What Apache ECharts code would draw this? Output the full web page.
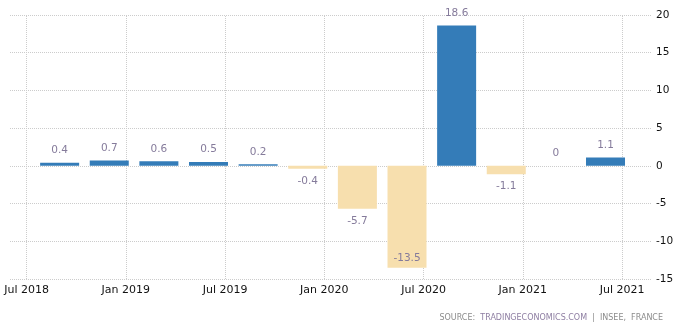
<!DOCTYPE html>
<html>
<head>
<meta charset="utf-8">
<title>France GDP Growth Rate</title>
<script src="https://cdn.jsdelivr.net/npm/echarts@6/dist/echarts.min.js"></script>
<style>
  html, body { margin: 0; padding: 0; background: #fff; }
  #chart { width: 681px; height: 331px; }
</style>
</head>
<body>
<div id="chart"></div>
<script>
// Quarterly GDP growth (QoQ, %), each bar placed at its reporting month
const periods = ['2018-09', '2018-12', '2019-03', '2019-06', '2019-09', '2019-12',
                 '2020-03', '2020-06', '2020-09', '2020-12', '2021-03', '2021-06'];
const growth = [0.4, 0.7, 0.6, 0.5, 0.2, -0.4, -5.7, -13.5, 18.6, -1.1, 0, 1.1];

// Axis tick labels (half-yearly)
const tickLabels = ['Jul 2018', 'Jan 2019', 'Jul 2019', 'Jan 2020', 'Jul 2020', 'Jan 2021', 'Jul 2021'];
const yTicks = [-15, -10, -5, 0, 5, 10, 15, 20];

const monthNames = ['Jan','Feb','Mar','Apr','May','Jun','Jul','Aug','Sep','Oct','Nov','Dec'];
// Months counted from Jul 2018
function monthIndex(year, month) { return (year - 2018) * 12 + (month - 7); }
function periodIndex(p) { const [y, m] = p.split('-').map(Number); return monthIndex(y, m); }
function labelIndex(s) { const [mn, y] = s.split(' '); return monthIndex(+y, monthNames.indexOf(mn) + 1); }

const tickPos = tickLabels.map(labelIndex);
const labelByPos = {};
tickPos.forEach((p, i) => { labelByPos[p] = tickLabels[i]; });

const POS = '#347cb8', NEG = '#f7dfae';
const LABEL = '#857b9b';
const GRID = '#cccccc';
const FONT = 'DejaVu Sans';

const yMin = yTicks[0], yMax = yTicks[yTicks.length - 1];

const barData = periods.map((p, i) => {
  const v = growth[i];
  const roomBelow = v - yMin;
  let position = v < 0 ? 'bottom' : 'top';
  if (v < 0 && roomBelow < 2.5) position = 'insideBottom';
  return {
    value: [periodIndex(p), v],
    itemStyle: { color: v < 0 ? NEG : POS },
    label: { position: position, distance: position === 'insideBottom' ? 4 : 7 }
  };
});

const chart = echarts.init(document.getElementById('chart'), null, { renderer: 'canvas' });
chart.setOption({
  animation: false,
  backgroundColor: '#fff',
  grid: { left: 10, right: 30, top: 15, bottom: 52, containLabel: false },
  title: {
    right: 13, bottom: 4,
    text: '{a|SOURCE:  }{b|TRADINGECONOMICS.COM}{a|  |  INSEE,  FRANCE}',
    textStyle: {
      rich: {
        a: { fontFamily: FONT, fontSize: 8, fontWeight: 'normal', color: '#8c8c8c' },
        b: { fontFamily: FONT, fontSize: 8, fontWeight: 'normal', color: '#8e7ea2' }
      }
    }
  },
  xAxis: {
    type: 'value',
    min: -1, max: 37.75,
    axisLine: { show: false },
    axisTick: { show: true, customValues: tickPos, length: 3, lineStyle: { color: GRID, type: 'dotted' } },
    axisLabel: {
      customValues: tickPos,
      margin: 6,
      fontFamily: FONT, fontSize: 11, color: '#111',
      formatter: v => labelByPos[Math.round(v)] || ''
    },
    splitLine: { show: false }
  },
  yAxis: {
    type: 'value',
    position: 'right',
    min: yMin, max: yMax, interval: 5,
    axisLine: { show: false },
    axisTick: { show: false },
    axisLabel: { margin: 5, fontFamily: FONT, fontSize: 10.5, color: '#111' },
    splitLine: { show: true, lineStyle: { color: GRID, type: 'dotted', width: 1 } }
  },
  series: [{
    type: 'bar',
    barWidth: 39,
    data: barData,
    label: {
      show: true,
      fontFamily: FONT, fontSize: 10.5, color: LABEL,
      formatter: p => String(p.value[1])
    },
    // half-yearly vertical gridlines
    markLine: {
      silent: true,
      symbol: 'none',
      z: 0,
      label: { show: false },
      lineStyle: { color: GRID, type: 'dotted', width: 1 },
      data: tickPos.map(x => ({ xAxis: x }))
    }
  }]
});
</script>
</body>
</html>
